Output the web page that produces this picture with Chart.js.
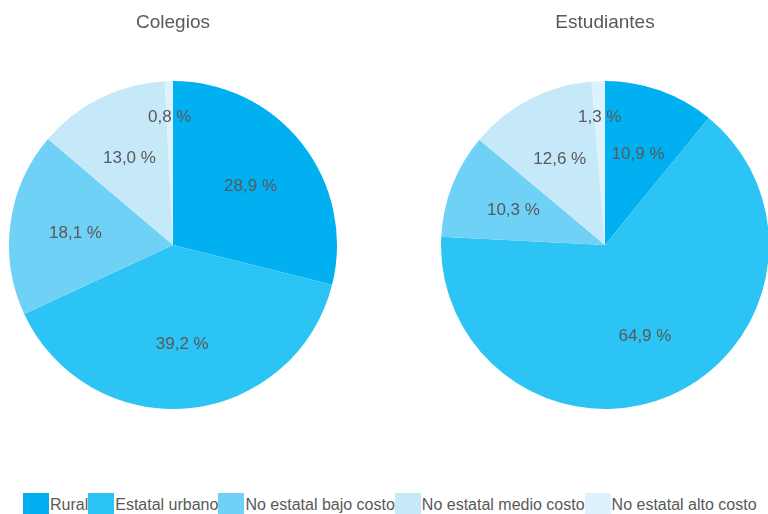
<!DOCTYPE html>
<html>
<head>
<meta charset="utf-8">
<script src="https://cdn.jsdelivr.net/npm/chart.js@4/dist/chart.umd.min.js"></script>
<style>
  html, body { margin: 0; padding: 0; background: #fff; }
  body { width: 768px; height: 514px; position: relative; overflow: hidden; font-family: "Liberation Sans", Arial, sans-serif; }
  .pie { position: absolute; top: 0; width: 346px; height: 420px; }
  #legend { position: absolute; left: 23px; top: 493px; display: flex; white-space: nowrap; }
  #legend .item { display: flex; align-items: flex-start; }
  #legend .box { width: 26px; height: 21px; display: inline-block; }
  #legend .txt { font-size: 16px; line-height: 21px; color: #595959; padding: 1px 0 0 1px; }
</style>
</head>
<body>
<div class="pie" style="left:0px"><canvas id="colegiosChart"></canvas></div>
<div class="pie" style="left:432px"><canvas id="estudiantesChart"></canvas></div>
<div id="legend"></div>
<script>
const categories = ['Rural', 'Estatal urbano', 'No estatal bajo costo', 'No estatal medio costo', 'No estatal alto costo'];
const colegios = [28.9, 39.2, 18.1, 13.0, 0.8];
const estudiantes = [10.9, 64.9, 10.3, 12.6, 1.3];
const colors = ['#00b0f0', '#2cc4f4', '#6fd1f6', '#c6e9fa', '#ddf2fc'];

// Etiquetas dentro de las porciones (estilo Excel)
const sliceLabels = {
  id: 'sliceLabels',
  afterDatasetsDraw(chart) {
    const ctx = chart.ctx;
    const meta = chart.getDatasetMeta(0);
    const values = chart.data.datasets[0].data;
    ctx.save();
    ctx.font = '17px "Liberation Sans", Arial, sans-serif';
    ctx.fillStyle = '#595959';
    ctx.textAlign = 'center';
    ctx.textBaseline = 'middle';
    meta.data.forEach((arc, i) => {
      const { x, y, startAngle, endAngle, outerRadius } = arc.getProps(['x', 'y', 'startAngle', 'endAngle', 'outerRadius'], true);
      const mid = (startAngle + endAngle) / 2;
      const f = values[i] < 2 ? 0.79 : 0.6; // porciones muy chicas: etiqueta más afuera
      const lx = x + Math.cos(mid) * outerRadius * f;
      const ly = y + Math.sin(mid) * outerRadius * f + 1.5;
      ctx.fillText(values[i].toFixed(1).replace('.', ',') + ' %', lx, ly);
    });
    ctx.restore();
  },
};

function pie(id, title, values) {
  return new Chart(document.getElementById(id), {
    type: 'pie',
    data: {
      labels: categories,
      datasets: [{ data: values, backgroundColor: colors, borderWidth: 0, hoverOffset: 0, offset: 0 }],
    },
    options: {
      responsive: true,
      maintainAspectRatio: false,
      animation: false,
      layout: { padding: { left: 9, right: 9, top: 0, bottom: 11 } },
      plugins: {
        legend: { display: false },
        tooltip: { enabled: false },
        title: {
          display: true, text: title, color: '#595959',
          font: { family: '"Liberation Sans", Arial, sans-serif', size: 19, weight: 'normal' },
          padding: { top: 11, bottom: 47.2 },
        },
      },
    },
    plugins: [sliceLabels],
  });
}

pie('colegiosChart', 'Colegios', colegios);
pie('estudiantesChart', 'Estudiantes', estudiantes);

// Leyenda
const legend = document.getElementById('legend');
categories.forEach((c, i) => {
  const item = document.createElement('div');
  item.className = 'item';
  item.innerHTML = '<span class="box" style="background:' + colors[i] + '"></span><span class="txt">' + c + '</span>';
  legend.appendChild(item);
});
</script>
</body>
</html>
